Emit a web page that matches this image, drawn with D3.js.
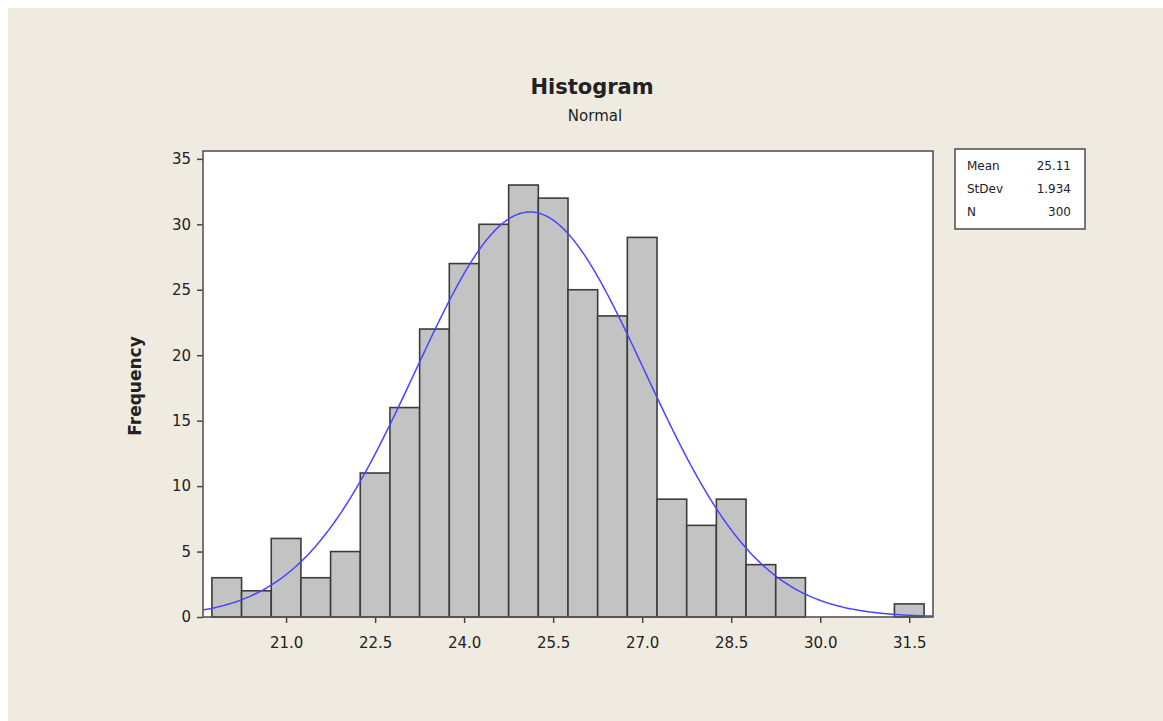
<!DOCTYPE html>
<html>
<head>
<meta charset="utf-8">
<script src="https://cdn.jsdelivr.net/npm/d3@7"></script>
<style>
  body { margin: 0; background: white; }
  text { font-family: "DejaVu Sans", sans-serif; fill: #222; }
</style>
</head>
<body>
<svg id="chart" width="1163" height="721"></svg>
<script>

// bin midpoints (bin width 0.5) and the count in each bin
var MIDPOINTS = [20.0, 20.5, 21.0, 21.5, 22.0, 22.5, 23.0, 23.5, 24.0, 24.5, 25.0, 25.5,
                 26.0, 26.5, 27.0, 27.5, 28.0, 28.5, 29.0, 29.5, 30.0, 30.5, 31.0, 31.5]
var COUNTS = [3, 2, 6, 3, 5, 11, 16, 22, 27, 30, 33, 32,
              25, 23, 29, 9, 7, 9, 4, 3, 0, 0, 0, 1]
var BIN_WIDTH = 0.5

var X_TICKS = [21.0, 22.5, 24.0, 25.5, 27.0, 28.5, 30.0, 31.5]
var Y_TICKS = [0, 5, 10, 15, 20, 25, 30, 35]

// fitted normal, as printed in the legend box
var STAT_LABELS = ["Mean", "StDev", "N"]
var STAT_VALUES = ["25.11", "1.934", "300"]
var MEAN = 25.11
var STDEV = 1.934
var N = 300

var PLOT = { left: 203, right: 933, top: 151, bottom: 617 }

var SVG = d3.select("#chart")

var X = d3.scaleLinear().domain([19.6, 31.9]).range([PLOT.left, PLOT.right])
var Y = d3.scaleLinear().domain([0, 35.6]).range([PLOT.bottom, PLOT.top])

function drawBackground() {
  SVG.append("rect")
    .attr("x", 8).attr("y", 8)
    .attr("width", 1163 - 8).attr("height", 721 - 8)
    .attr("fill", "#efebe1")

  SVG.append("rect")
    .attr("x", PLOT.left).attr("y", PLOT.top)
    .attr("width", PLOT.right - PLOT.left)
    .attr("height", PLOT.bottom - PLOT.top)
    .attr("fill", "white")
}

function drawTitles() {
  SVG.append("text")
    .attr("x", 592).attr("y", 94)
    .attr("text-anchor", "middle")
    .attr("font-size", 21)
    .attr("font-weight", "bold")
    .text("Histogram")

  SVG.append("text")
    .attr("x", 595).attr("y", 121)
    .attr("text-anchor", "middle")
    .attr("font-size", 15)
    .text("Normal")

  SVG.append("text")
    .attr("transform", "translate(141, 386) rotate(-90)")
    .attr("text-anchor", "middle")
    .attr("font-size", 17)
    .attr("font-weight", "bold")
    .text("Frequency")
}

function drawBars() {
  var bins = MIDPOINTS.map(function(m, i) { return { mid: m, count: COUNTS[i] } })

  SVG.selectAll(".bar")
    .data(bins.filter(function(b) { return b.count > 0 }))
    .enter().append("rect")
    .attr("class", "bar")
    .attr("x", function(b) { return X(b.mid - BIN_WIDTH / 2) })
    .attr("y", function(b) { return Y(b.count) })
    .attr("width", function(b) { return X(b.mid + BIN_WIDTH / 2) - X(b.mid - BIN_WIDTH / 2) })
    .attr("height", function(b) { return Y(0) - Y(b.count) })
    .attr("fill", "#c3c3c3")
    .attr("stroke", "#3c3c3c")
    .attr("stroke-width", 1.6)
}

function drawCurve() {
  // expected count per bin under the fitted normal
  function density(x) {
    var z = (x - MEAN) / STDEV
    return N * BIN_WIDTH * Math.exp(-0.5 * z * z) / (STDEV * Math.sqrt(2 * Math.PI))
  }
  var pts = d3.range(X.domain()[0], X.domain()[1] + 0.001, 0.02)

  SVG.append("path")
    .datum(pts)
    .attr("fill", "none")
    .attr("stroke", "#4646ff")
    .attr("stroke-width", 1.5)
    .attr("d", d3.line()
      .x(function(d) { return X(d) })
      .y(function(d) { return Y(density(d)) }))
}

function drawAxes() {
  var xAxis = SVG.append("g")
    .attr("transform", "translate(0," + PLOT.bottom + ")")
    .call(d3.axisBottom(X).tickValues(X_TICKS).tickFormat(d3.format(".1f"))
      .tickSize(6).tickSizeOuter(0))
  xAxis.select(".domain").remove()
  xAxis.selectAll("line").attr("stroke", "#444").attr("stroke-width", 1.5)
  xAxis.selectAll("text").attr("font-size", 15).attr("dy", "1.45em").attr("font-family", null)

  var yAxis = SVG.append("g")
    .attr("transform", "translate(" + PLOT.left + ",0)")
    .call(d3.axisLeft(Y).tickValues(Y_TICKS).tickSize(6).tickSizeOuter(0))
  yAxis.select(".domain").remove()
  yAxis.selectAll("line").attr("stroke", "#444").attr("stroke-width", 1.5)
  yAxis.selectAll("text").attr("font-size", 15).attr("x", -12).attr("font-family", null)

  SVG.append("rect")
    .attr("x", PLOT.left).attr("y", PLOT.top)
    .attr("width", PLOT.right - PLOT.left)
    .attr("height", PLOT.bottom - PLOT.top)
    .attr("fill", "none")
    .attr("stroke", "#555")
    .attr("stroke-width", 1.6)
}

function drawLegend() {
  var box = SVG.append("g").attr("transform", "translate(955,149)")

  box.append("rect")
    .attr("width", 130).attr("height", 80)
    .attr("fill", "white")
    .attr("stroke", "#555")
    .attr("stroke-width", 1.6)

  box.selectAll(".statLabel")
    .data(STAT_LABELS)
    .enter().append("text")
    .attr("class", "statLabel")
    .attr("x", 12)
    .attr("y", function(d, i) { return 21 + i * 23 })
    .attr("font-size", 12)
    .text(function(d) { return d })

  box.selectAll(".statValue")
    .data(STAT_VALUES)
    .enter().append("text")
    .attr("class", "statValue")
    .attr("x", 116)
    .attr("y", function(d, i) { return 21 + i * 23 })
    .attr("text-anchor", "end")
    .attr("font-size", 12)
    .text(function(d) { return d })
}

drawBackground()
drawTitles()
drawBars()
drawCurve()
drawAxes()
drawLegend()
</script>
</body>
</html>
